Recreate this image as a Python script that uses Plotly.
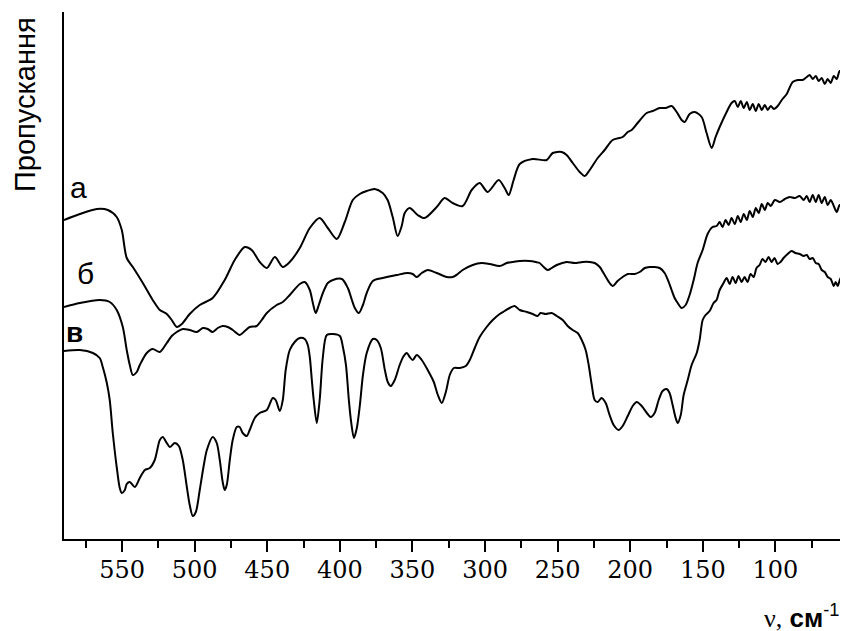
import plotly.graph_objects as go

# ---- data (wavenumber, cm^-1 ; transmittance, arbitrary units) ----
nu_a = [590, 579.1, 567.4, 559.8, 553.7, 550.2, 546.8, 542.6, 535.7, 528.9, 524.0, 519.2, 515.8, 512.3,
        508.9, 503.4, 496.5, 487.6, 479.3, 472.4, 465.5, 460.7, 455.2, 450.3, 444.8, 439.3, 434.5, 427.6,
        420.7, 413.9, 408.3, 402.1, 396.6, 391.1, 386.3, 381.5, 376.0, 370.5, 367.1, 363.6, 360.2, 357.4,
        355.3, 351.9, 346.4, 341.6, 333.3, 327.8, 322.3, 315.4, 309.2, 303.7, 298.2, 290.6, 286.5, 283.7,
        280.3, 276.1, 267.2, 257.5, 253.4, 247.2, 243.8, 239.6, 234.8, 231.3, 227.9, 222.4, 217.6, 212.1,
        205.2, 201.7, 199.0, 194.9, 188.7, 184.5, 179.7, 175.6, 171.5, 168.0, 164.6, 162.5, 159.1, 155.6,
        150.8, 147.4, 143.9, 141.2, 138.4, 133.6, 130.2, 128.0, 125.9, 123.9, 121.8, 119.7, 117.7, 115.6,
        113.5, 111.5, 109.4, 107.3, 105.3, 103.2, 101.1, 98.4, 95.6, 92.2, 88.1, 84.6, 81.2, 78.4, 76.4,
        74.3, 72.2, 70.2, 68.1, 66.0, 64.0, 61.9, 59.8, 57.8, 55.7, 53.6, 51.6, 50.2]
t_a = [319, 325, 330, 329, 322, 309, 281, 272, 256, 239, 229, 225, 219, 212,
       215, 225, 234, 241, 259, 279, 292, 289, 277, 271, 282, 272, 277, 291,
       311, 321, 311, 300, 317, 339, 345, 348, 350, 346, 339, 322, 303, 313,
       326, 331, 324, 321, 332, 341, 336, 333, 349, 356, 347, 359, 351, 344,
       359, 375, 380, 379, 386, 387, 384, 376, 367, 363, 369, 381, 389, 399,
       402, 407, 409, 416, 426, 428, 431, 431, 433, 427, 419, 417, 425, 427,
       422, 406, 391, 402, 412, 427, 436, 438, 432, 438, 431, 437, 429, 435,
       428, 435, 429, 434, 429, 433, 430, 433, 439, 445, 457, 459, 459, 462, 464,
       460, 463, 458, 461, 455, 460, 456, 463, 460, 468, 467, 470, 469]

nu_b = [590, 579.1, 565.4, 558.5, 553.7, 549.5, 546.8, 544.7, 542.6, 539.9, 537.8, 533.0, 528.9, 524.0,
        519.2, 515.8, 512.3, 508.2, 503.4, 498.6, 494.4, 491.0, 487.6, 484.1, 480.7, 477.2, 473.8, 469.0,
        465.5, 462.1, 457.3, 453.8, 450.3, 443.5, 439.3, 434.5, 427.6, 424.2, 420.7, 418.6, 416.6, 414.5,
        411.7, 408.3, 404.8, 398.6, 394.5, 391.7, 389.7, 386.9, 384.1, 381.5, 377.3, 370.5, 360.8, 353.3,
        349.8, 347.0, 343.6, 339.5, 333.3, 326.4, 322.3, 318.8, 315.4, 308.5, 302.3, 296.8, 289.9, 285.1,
        281.0, 276.1, 269.3, 265.1, 262.4, 259.6, 256.8, 254.1, 250.6, 243.8, 238.3, 232.8, 227.9, 224.5,
        221.0, 217.6, 214.2, 212.1, 208.7, 205.2, 201.7, 196.9, 193.5, 190.0, 186.6, 183.2, 179.7, 176.3,
        173.5, 171.5, 169.4, 167.3, 164.6, 161.8, 159.1, 156.3, 153.6, 150.1, 146.7, 143.3, 140.5, 138.4,
        136.4, 134.3, 132.2, 130.2, 128.0, 125.9, 123.9, 121.8, 119.7, 117.7, 115.6, 113.5, 111.5, 109.4,
        107.3, 105.3, 103.2, 100.4, 97.0, 93.5, 90.1, 86.7, 83.3, 80.5, 78.4, 76.4, 74.3, 72.2, 70.2, 68.1,
        66.0, 64.0, 61.9, 59.8, 57.8, 55.7, 53.6, 50.2]
t_b = [232, 236, 239, 237, 229, 212, 189, 174, 164, 167, 174, 186, 190, 187,
       196, 203, 207, 210, 209, 207, 211, 210, 207, 211, 213, 212, 209, 204,
       208, 212, 213, 219, 226, 234, 237, 244, 255, 257, 249, 236, 226, 234,
       246, 256, 259, 260, 251, 239, 231, 226, 234, 246, 258, 261, 264, 266,
       265, 262, 266, 269, 266, 262, 262, 265, 269, 274, 276, 275, 273, 276,
       277, 278, 278, 277, 276, 272, 269, 271, 274, 277, 276, 277, 277, 276,
       272, 264, 256, 253, 258, 262, 265, 265, 267, 271, 272, 272, 271, 266,
       257, 249, 241, 236, 231, 234, 244, 259, 276, 289, 305, 312, 313, 317,
       312, 319, 314, 321, 315, 323, 317, 325, 319, 328, 322, 331, 326, 335,
       329, 336, 333, 339, 337, 340, 342, 341, 343, 339, 343, 337, 344, 337, 344, 336,
       342, 334, 339, 333, 327, 334, 333, 333]

nu_v = [590, 579.1, 570.1, 565.4, 563.3, 560.5, 558.5, 556.4, 553.7, 551.6, 550.2, 548.1, 546.8, 544.7,
        541.2, 537.8, 534.3, 530.9, 527.5, 524.0, 522.0, 519.2, 517.1, 513.7, 510.9, 508.2, 505.4, 503.4,
        501.3, 499.2, 496.5, 493.7, 491.6, 487.6, 484.8, 482.7, 480.7, 479.3, 477.9, 475.8, 473.8, 471.0,
        469.0, 466.9, 464.1, 462.1, 458.6, 455.2, 450.3, 446.2, 444.2, 441.4, 439.3, 437.3, 434.5, 431.1,
        427.6, 424.2, 422.1, 420.7, 419.3, 418.0, 415.9, 413.9, 411.7, 409.0, 404.8, 400.0, 397.9, 395.8,
        393.8, 392.4, 390.3, 388.3, 386.2, 384.1, 381.5, 377.3, 374.6, 371.8, 369.0, 367.0, 364.9, 362.2,
        358.8, 356.0, 353.9, 351.9, 349.8, 347.0, 343.6, 339.5, 335.3, 332.5, 329.8, 327.0, 324.3, 321.5,
        317.4, 313.3, 310.5, 307.1, 303.7, 298.9, 294.7, 289.9, 286.5, 283.0, 279.6, 276.1, 271.3, 267.2,
        263.8, 261.7, 258.3, 254.1, 250.6, 246.5, 243.1, 239.6, 236.2, 233.4, 230.7, 228.6, 226.5, 224.5,
        222.4, 219.7, 216.9, 214.2, 211.4, 208.0, 205.2, 201.7, 198.3, 195.5, 192.1, 188.0, 185.9, 183.2,
        180.4, 177.7, 174.9, 172.9, 170.8, 168.7, 167.3, 165.2, 163.2, 160.4, 157.7, 154.2, 152.2, 150.1,
        148.1, 145.3, 142.6, 140.5, 138.4, 135.7, 133.6, 131.5, 129.5, 127.4, 125.4, 123.3, 121.2, 119.2,
        117.1, 115.0, 113.0, 110.9, 108.9, 106.8, 104.7, 102.7, 100.6, 98.5, 96.5, 94.4, 91.6, 88.9, 86.2,
        83.3, 80.5, 78.4, 76.4, 74.3, 72.2, 70.2, 68.1, 66.0, 64.0, 61.9, 59.8, 58.5, 57.1, 55.1, 53.0, 50.2]
t_v = [188, 189, 186, 181, 172, 156, 139, 106, 72, 51, 46, 49, 55, 57,
       52, 61, 69, 71, 79, 99, 102, 96, 92, 96, 93, 79, 52, 34,
       23, 27, 49, 74, 89, 102, 96, 79, 57, 49, 54, 79, 99, 112,
       112, 106, 103, 109, 121, 126, 129, 141, 139, 128, 139, 169, 189, 197,
       201, 200, 194, 182, 159, 139, 116, 139, 182, 204, 205, 203, 192, 174,
       139, 119, 101, 111, 134, 164, 186, 200, 199, 191, 169, 157, 153, 159,
       174, 183, 186, 182, 179, 184, 179, 169, 157, 144, 136, 147, 164, 171,
       171, 173, 179, 191, 202, 212, 219, 225, 228, 231, 233, 229, 227, 225,
       223, 226, 225, 226, 223, 219, 213, 209, 206, 199, 189, 174, 154, 139,
       137, 141, 136, 124, 114, 109, 113, 123, 133, 137, 133, 125, 122, 126,
       139, 148, 150, 146, 134, 121, 116, 124, 144, 159, 174, 186, 199, 219,
       224, 228, 236, 239, 249, 256, 261, 255, 262, 256, 263, 257, 262, 257,
       265, 262, 271, 274, 280, 277, 282, 277, 281, 275, 277, 281, 285, 288, 286,
       285, 283, 284, 280, 281, 276, 275, 269, 267, 262, 260, 253, 257, 253, 261, 263, 263]

major_ticks = [550, 500, 450, 400, 350, 300, 250, 200, 150, 100]
minor_ticks = [575, 525, 475, 425, 375, 325, 275, 225, 175, 125, 75]
curve_labels = ["а", "б", "<b>в</b>"]
label_pos_nu = [580.0, 575.5, 583.0]
label_pos_t = [352, 266, 207]
label_sizes = [30, 30, 28]

fig = go.Figure()
for nu, t in [(nu_a, t_a), (nu_b, t_b), (nu_v, t_v)]:
    fig.add_trace(go.Scatter(x=nu, y=t, mode="lines",
                             line=dict(color="black", width=2, shape="spline", smoothing=0.8),
                             showlegend=False, hoverinfo="skip"))

for txt, xn, yt, sz in zip(curve_labels, label_pos_nu, label_pos_t, label_sizes):
    fig.add_annotation(x=xn, y=yt, xref="x", yref="y", text=txt, showarrow=False,
                       font=dict(family="Liberation Sans, Arial", size=sz, color="black"),
                       xanchor="center", yanchor="middle")

# y-axis title (top-left, rotated)
fig.add_annotation(x=-0.0497, y=0.8235, xref="paper", yref="paper", text="Пропускання",
                   textangle=-90, showarrow=False,
                   font=dict(family="Liberation Sans, Arial", size=29, color="black"),
                   xanchor="center", yanchor="middle")

# x-axis title (bottom-right)
fig.add_annotation(x=0.941, y=-0.148, xref="paper", yref="paper",
                   text="<span style='font-family:Liberation Serif'>ν,</span> <b>см</b><sup>-1</sup>",
                   showarrow=False,
                   font=dict(family="Liberation Sans, Arial", size=26, color="black"),
                   xanchor="center", yanchor="middle")

fig.update_xaxes(range=[590, 50], showline=True, linecolor="black", linewidth=2,
                 ticks="outside", ticklen=11, tickwidth=2, tickcolor="black",
                 tickmode="array", tickvals=major_ticks, ticktext=[str(v) for v in major_ticks],
                 tickfont=dict(family="DejaVu Serif", size=24, color="black"),
                 ticklabelstandoff=-3,
                 minor=dict(tickmode="array", tickvals=minor_ticks, ticks="outside", ticklen=7,
                            tickwidth=2, tickcolor="black", showgrid=False),
                 showgrid=False, zeroline=False, mirror=False)
fig.update_yaxes(range=[0, 527], showline=True, linecolor="black", linewidth=2,
                 ticks="", showticklabels=False, showgrid=False, zeroline=False)

# the page body adds an 8 px offset, so the margins are shifted to compensate
fig.update_layout(width=848, height=631, margin=dict(l=56, r=8, t=4, b=100),
                  plot_bgcolor="white", paper_bgcolor="white")

fig.write_html("out.html")
